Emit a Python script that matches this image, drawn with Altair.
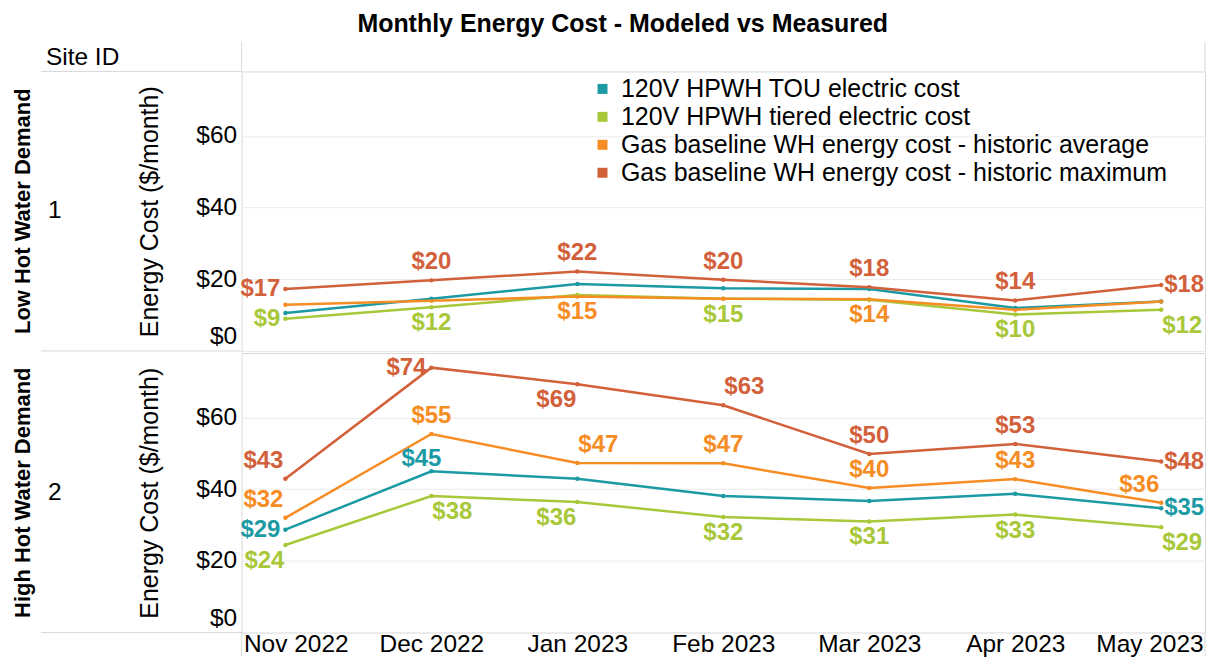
import altair as alt
import pandas as pd

FONT = "Liberation Sans"
W, H = 965, 280
YMAX = 78
LINE_GRAY = "#d9d9d9"

title_text = "Monthly Energy Cost - Modeled vs Measured"
months = ["Nov 2022", "Dec 2022", "Jan 2023", "Feb 2023", "Mar 2023", "Apr 2023", "May 2023"]
series = [
    "120V HPWH TOU electric cost",
    "120V HPWH tiered electric cost",
    "Gas baseline WH energy cost - historic average",
    "Gas baseline WH energy cost - historic maximum",
]
colors = ["#1B9AA4", "#A8C83A", "#F68D24", "#D2603A"]
demand_labels = ["Low Hot Water Demand", "High Hot Water Demand"]
site_ids = ["1", "2"]
y_ticks = [0, 20, 40, 60]

# Site 1 (low hot water demand)
s1_tou = [10.6, 14.6, 18.7, 17.5, 17.3, 12.0, 13.8]
s1_tiered = [9.0, 12.2, 15.6, 14.6, 14.3, 10.2, 11.5]
s1_avg = [12.9, 14.0, 15.2, 14.6, 14.4, 11.5, 13.8]
s1_max = [17.3, 19.7, 22.2, 19.9, 17.8, 14.1, 18.4]
# Site 2 (high hot water demand)
s2_tou = [28.7, 45.0, 42.9, 38.1, 36.7, 38.7, 34.7]
s2_tiered = [24.4, 38.1, 36.4, 32.2, 31.0, 32.9, 29.4]
s2_avg = [32.0, 55.4, 47.3, 47.2, 40.3, 42.8, 36.2]
s2_max = [42.9, 73.9, 69.3, 63.4, 49.8, 52.6, 47.7]

# which value labels are shown, and on which side of the point
s1_tou_lbl = ["", "", "", "", "", "", ""]
s1_tiered_lbl = ["left", "below", "", "below", "", "below", "below-right"]
s1_avg_lbl = ["", "", "below", "", "below", "", ""]
s1_max_lbl = ["left", "above", "above", "above", "above", "above", "right"]
s2_tou_lbl = ["left", "upper-left", "", "", "", "", "right"]
s2_tiered_lbl = ["below-left", "below-right", "below-left", "below", "below", "below", "below-right"]
s2_avg_lbl = ["above-left", "above", "above-right", "above", "above", "above", "above-left"]
s2_max_lbl = ["above-left", "left", "below-left", "above-right", "above", "above", "right"]

# label placement styles: (align, dx, dy)
placements = {
    "above": ("center", 0, -18),
    "below": ("center", 0, 16),
    "left": ("right", -5, 0),
    "right": ("left", 3, 0),
    "above-left": ("right", -2, -18),
    "above-right": ("left", 1, -18),
    "below-left": ("right", -1, 16),
    "below-right": ("left", 1, 16),
    "upper-left": ("center", -10, -12),
}

site_values = [[s1_tou, s1_tiered, s1_avg, s1_max], [s2_tou, s2_tiered, s2_avg, s2_max]]
site_lbls = [[s1_tou_lbl, s1_tiered_lbl, s1_avg_lbl, s1_max_lbl],
             [s2_tou_lbl, s2_tiered_lbl, s2_avg_lbl, s2_max_lbl]]

records = []
for si, site in enumerate(site_ids):
    for ki, name in enumerate(series):
        for mi, m in enumerate(months):
            records.append(dict(site=site, demand=demand_labels[si], month=m, series=name,
                                value=site_values[si][ki][mi], place=site_lbls[si][ki][mi]))
df = pd.DataFrame(records)


def make_row(si):
    first = si == 0
    last = si == len(site_ids) - 1
    d = df[df.site == site_ids[si]]
    base = alt.Chart(d)

    if last:
        xaxis = alt.Axis(title=None, labelAngle=0, labelFontSize=24.5, labelFont=FONT, labelColor="#000",
                         domain=False, ticks=False, labelPadding=0,
                         grid=False, labelFlush=50, labelFlushOffset=42)
    else:
        xaxis = None
    x = alt.X("month:O", sort=months, scale=alt.Scale(type="point", padding=0.3), axis=xaxis)
    y = alt.Y("value:Q", scale=alt.Scale(domain=[0, YMAX], nice=False, zero=True),
              axis=alt.Axis(values=y_ticks, format="$.0f", title="Energy Cost ($/month)",
                            titleFontSize=25, titleFont=FONT, titleFontWeight="normal", titleColor="#000",
                            titlePadding=33, labelFontSize=24.5, labelFont=FONT, labelColor="#000",
                            labelPadding=5, labelFlush=True, labelFlushOffset=-2, domain=False,
                            ticks=False, grid=True, gridColor="#ebebeb"))
    cscale = alt.Scale(domain=series, range=colors)
    stroke_enc = alt.Stroke("series:N", sort=series, scale=cscale, legend=None)
    fill_enc = alt.Fill("series:N", sort=series, scale=cscale, legend=None)
    if first:
        legend = alt.Legend(title=None, orient="none", legendX=349, legendY=5, symbolType="square",
                            symbolSize=100, symbolStrokeWidth=0, labelFontSize=25, labelFont=FONT,
                            labelColor="#000", labelOffset=6, rowPadding=2, labelLimit=1000)
    else:
        legend = None
    color_enc = alt.Color("series:N", sort=series, scale=cscale, legend=legend)

    pts = base.mark_circle(size=20, opacity=1).encode(x=x, y=y, color=color_enc)
    lines = base.mark_line(strokeWidth=2.5).encode(x=x, y=y, stroke=stroke_enc)
    texts = []
    for key, (al, dx, dy) in placements.items():
        texts.append(
            base.transform_filter(alt.datum.place == key)
            .mark_text(align=al, dx=dx, dy=dy, baseline="middle", font=FONT, fontSize=24, fontWeight="bold")
            .encode(x=x, y=y, text=alt.Text("value:Q", format="$.0f"), fill=fill_enc)
        )

    deco = alt.Chart(pd.DataFrame({"k": [0]}))

    def hline(yv):
        return deco.mark_rule(color=LINE_GRAY, strokeWidth=1).encode(
            x=alt.value(-201), x2=alt.value(0), y=alt.value(yv))

    def vline(xv, y1, y2):
        return deco.mark_rule(color=LINE_GRAY, strokeWidth=1).encode(
            x=alt.value(xv), y=alt.value(y1), y2=alt.value(y2))

    decos = [hline(H)]
    if first:
        decos += [hline(0), vline(0, -30, 0), vline(W, -30, 0)]
    if last:
        decos += [vline(0, H, H + 24), vline(W, H, H + 24)]

    lab = alt.Chart(pd.DataFrame({"site": [site_ids[si]], "demand": [demand_labels[si]]}))
    site_txt = lab.mark_text(font=FONT, fontSize=24.5, align="left", baseline="middle", color="#000").encode(
        x=alt.value(-194), y=alt.value(H / 2), text="site:N")
    demand_txt = lab.mark_text(font=FONT, fontSize=22, fontWeight="bold", angle=270, align="center",
                               baseline="middle", color="#000").encode(
        x=alt.value(-219), y=alt.value(H / 2), text="demand:N")
    extra = [site_txt, demand_txt]
    if first:
        extra.append(
            alt.Chart(pd.DataFrame({"h": ["Site ID"]})).mark_text(
                font=FONT, fontSize=24.5, align="left", baseline="middle", color="#000").encode(
                x=alt.value(-196), y=alt.value(-13), text="h:N"))

    return alt.layer(*decos, pts, lines, *texts, *extra).properties(width=W, height=H)


chart = (
    alt.vconcat(*[make_row(i) for i in range(len(site_ids))], spacing=0)
    .resolve_scale(color="independent")
    .properties(
        title=alt.TitleParams(text=title_text, fontSize=25, font=FONT, fontWeight="bold",
                              anchor="middle", offset=4, dx=14, color="#000"),
        padding={"left": 3, "top": 3, "right": 0, "bottom": 0},
    )
    .configure_view(stroke=LINE_GRAY, strokeWidth=1)
)

chart.save("out.html", embed_options={"renderer": "svg", "actions": False})
